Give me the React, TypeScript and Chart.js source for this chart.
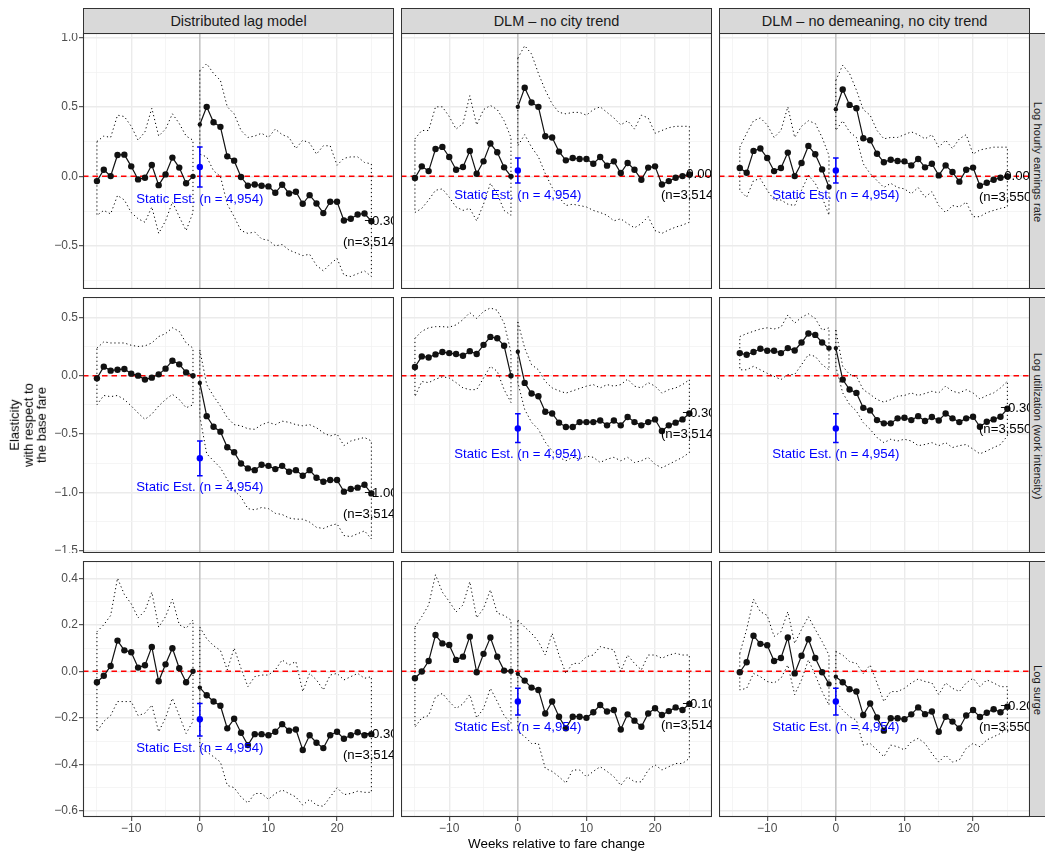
import React, { useEffect, useRef } from "react";
import { Chart, registerables } from "chart.js";

Chart.register(...registerables);

const FONT = "'Liberation Sans', Arial, Helvetica, sans-serif";
Chart.defaults.font.family = FONT;

// ---------------------------------------------------------------------------
// Data
// ---------------------------------------------------------------------------

// Weeks relative to the fare change (event time)
const WEEKS = [
  -15, -14, -13, -12, -11, -10, -9, -8, -7, -6, -5, -4, -3, -2, -1,
  0, 1, 2, 3, 4, 5, 6, 7, 8, 9, 10, 11, 12, 13, 14, 15, 16, 17, 18, 19, 20, 21, 22, 23, 24, 25,
];

const MODEL_TITLES = ["Distributed lag model", "DLM \u2013 no city trend", "DLM \u2013 no demeaning, no city trend"];
const OUTCOME_TITLES = ["Log hourly earnings rate", "Log utilization (work intensity)", "Log surge"];
const N_LABELS = ["(n=3,514)", "(n=3,514)", "(n=3,550)"];
const STATIC_LABEL = "Static Est. (n = 4,954)";

// Axis breaks (all grid lines) and the breaks that carry a label
const X_BREAKS = [-15, -10, -5, 0, 5, 10, 15, 20, 25];
const X_LABELED = [-10, 0, 10, 20];
const Y_BREAKS_EARN = [-0.75, -0.5, -0.25, 0, 0.25, 0.5, 0.75, 1.0];
const Y_LABELED_EARN = [-0.5, 0, 0.5, 1.0];
const Y_BREAKS_UTIL = [-1.5, -1.25, -1.0, -0.75, -0.5, -0.25, 0, 0.25, 0.5];
const Y_LABELED_UTIL = [-1.5, -1.0, -0.5, 0, 0.5];
const Y_BREAKS_SURGE = [-0.6, -0.5, -0.4, -0.3, -0.2, -0.1, 0, 0.1, 0.2, 0.3, 0.4];
const Y_LABELED_SURGE = [-0.6, -0.4, -0.2, 0, 0.2, 0.4];

// Log hourly earnings rate
const earnDlm = [
  -0.034, 0.048, 0.002, 0.154, 0.156, 0.072, -0.022, -0.010, 0.082, -0.063, 0.014, 0.135, 0.063, -0.050, 0.000,
  0.373, 0.500, 0.389, 0.356, 0.144, 0.113, -0.005, -0.067, -0.058, -0.067, -0.072, -0.118, -0.060, -0.123, -0.111,
  -0.197, -0.135, -0.195, -0.264, -0.183, -0.183, -0.317, -0.305, -0.274, -0.267, -0.322,
];
const earnDlmHi = [
  0.25, 0.29, 0.28, 0.44, 0.43, 0.36, 0.26, 0.32, 0.49, 0.29, 0.34, 0.45, 0.38, 0.29, 0.26,
  0.76, 0.81, 0.74, 0.69, 0.50, 0.45, 0.33, 0.28, 0.29, 0.31, 0.28, 0.34, 0.30, 0.28, 0.20,
  0.26, 0.24, 0.16, 0.22, 0.22, 0.08, 0.13, 0.14, 0.14, 0.10, 0.09,
];
const earnDlmLo = [
  -0.28, -0.245, -0.27, -0.137, -0.17, -0.26, -0.305, -0.33, -0.22, -0.41, -0.32, -0.185, -0.29, -0.39, -0.26,
  0.16, 0.14, 0.04, 0.00, -0.20, -0.29, -0.39, -0.41, -0.40, -0.45, -0.46, -0.50, -0.49, -0.53, -0.55,
  -0.57, -0.56, -0.64, -0.68, -0.63, -0.59, -0.71, -0.72, -0.70, -0.68, -0.72,
];
const earnNoTrend = [
  -0.012, 0.072, 0.038, 0.197, 0.212, 0.139, 0.048, 0.067, 0.183, 0.019, 0.108, 0.236, 0.173, 0.065, 0.000,
  0.500, 0.637, 0.531, 0.500, 0.288, 0.279, 0.178, 0.115, 0.132, 0.125, 0.125, 0.091, 0.139, 0.077, 0.108,
  0.024, 0.096, 0.048, -0.024, 0.063, 0.072, -0.058, -0.034, -0.010, 0.002, 0.014,
];
const earnNoTrendHi = [
  0.27, 0.33, 0.33, 0.50, 0.50, 0.43, 0.34, 0.38, 0.58, 0.37, 0.48, 0.51, 0.48, 0.40, 0.28,
  0.85, 0.94, 0.88, 0.74, 0.62, 0.52, 0.46, 0.45, 0.46, 0.46, 0.44, 0.48, 0.50, 0.46, 0.42,
  0.37, 0.40, 0.34, 0.44, 0.42, 0.31, 0.33, 0.35, 0.36, 0.36, 0.36,
];
const earnNoTrendLo = [
  -0.26, -0.23, -0.17, -0.10, -0.09, -0.15, -0.22, -0.245, -0.23, -0.32, -0.20, -0.05, -0.125, -0.245, -0.28,
  0.22, 0.30, 0.21, 0.14, 0.02, -0.08, -0.15, -0.21, -0.20, -0.21, -0.22, -0.245, -0.26, -0.28, -0.32,
  -0.305, -0.34, -0.37, -0.34, -0.29, -0.39, -0.41, -0.385, -0.365, -0.35, -0.33,
];
const earnNoDemean = [
  null, 0.060, 0.026, 0.183, 0.200, 0.132, 0.038, 0.060, 0.171, 0.002, 0.096, 0.219, 0.159, 0.050, -0.077,
  0.483, 0.625, 0.514, 0.490, 0.274, 0.260, 0.163, 0.101, 0.120, 0.110, 0.108, 0.079, 0.125, 0.065, 0.091,
  0.007, 0.079, 0.031, -0.038, 0.048, 0.063, -0.067, -0.046, -0.024, -0.010, 0.000,
];
const earnNoDemeanHi = [
  null, 0.21, 0.31, 0.40, 0.42, 0.37, 0.28, 0.33, 0.50, 0.28, 0.36, 0.40, 0.38, 0.28, 0.15,
  0.69, 0.80, 0.74, 0.62, 0.48, 0.44, 0.33, 0.27, 0.28, 0.28, 0.30, 0.32, 0.30, 0.27, 0.30,
  0.21, 0.26, 0.20, 0.27, 0.30, 0.16, 0.19, 0.20, 0.21, 0.21, 0.21,
];
const earnNoDemeanLo = [
  null, -0.10, -0.15, -0.03, -0.017, -0.10, -0.17, -0.17, -0.20, -0.21, -0.10, 0.007, -0.05, -0.15, -0.28,
  0.33, 0.40, 0.32, 0.28, 0.09, 0.02, -0.03, -0.08, -0.05, -0.08, -0.09, -0.125, -0.08, -0.15, -0.11,
  -0.21, -0.26, -0.21, -0.22, -0.185, -0.29, -0.29, -0.26, -0.245, -0.23, -0.22,
];

// Log utilization (work intensity)
const utilDlm = [
  -0.023, 0.077, 0.043, 0.051, 0.057, 0.017, 0.000, -0.034, -0.017, 0.011, 0.060, 0.128, 0.097, 0.028, 0.000,
  -0.062, -0.347, -0.438, -0.480, -0.614, -0.656, -0.753, -0.795, -0.810, -0.764, -0.773, -0.801, -0.773, -0.824, -0.810,
  -0.858, -0.810, -0.875, -0.909, -0.895, -0.895, -0.994, -0.972, -0.960, -0.935, -1.009,
];
const utilDlmHi = [
  0.236, 0.29, 0.28, 0.28, 0.28, 0.26, 0.25, 0.255, 0.28, 0.335, 0.36, 0.41, 0.38, 0.28, 0.236,
  0.22, -0.077, -0.176, -0.26, -0.36, -0.42, -0.43, -0.455, -0.46, -0.42, -0.40, -0.42, -0.39, -0.40, -0.42,
  -0.43, -0.42, -0.446, -0.49, -0.517, -0.50, -0.60, -0.56, -0.545, -0.53, -0.56,
];
const utilDlmLo = [
  -0.25, -0.17, -0.18, -0.17, -0.205, -0.26, -0.32, -0.375, -0.33, -0.26, -0.205, -0.16, -0.205, -0.275, -0.25,
  -0.35, -0.67, -0.73, -0.79, -0.89, -0.985, -1.04, -1.14, -1.15, -1.13, -1.14, -1.18, -1.19, -1.22, -1.23,
  -1.23, -1.255, -1.30, -1.31, -1.285, -1.27, -1.37, -1.38, -1.355, -1.33, -1.40,
];
const utilNoTrend = [
  0.074, 0.165, 0.156, 0.182, 0.202, 0.193, 0.185, 0.170, 0.210, 0.185, 0.264, 0.332, 0.321, 0.256, 0.000,
  0.205, -0.062, -0.153, -0.176, -0.310, -0.324, -0.403, -0.440, -0.440, -0.398, -0.398, -0.398, -0.384, -0.426, -0.384,
  -0.426, -0.355, -0.398, -0.426, -0.398, -0.375, -0.474, -0.426, -0.403, -0.375, -0.324,
];
const utilNoTrendHi = [
  0.32, 0.38, 0.41, 0.42, 0.42, 0.415, 0.435, 0.48, 0.54, 0.49, 0.55, 0.58, 0.56, 0.45, 0.20,
  0.46, 0.236, 0.094, 0.05, -0.05, -0.105, -0.13, -0.15, -0.13, -0.11, -0.09, -0.077, -0.105, -0.077, -0.09,
  -0.077, -0.03, -0.09, -0.105, -0.06, -0.09, -0.15, -0.12, -0.105, -0.077, -0.034,
];
const utilNoTrendLo = [
  -0.18, -0.05, -0.06, -0.03, -0.01, -0.02, -0.06, -0.105, -0.12, -0.12, -0.02, 0.08, 0.037, -0.12, -0.23,
  -0.06, -0.29, -0.40, -0.46, -0.57, -0.645, -0.70, -0.73, -0.70, -0.716, -0.69, -0.70, -0.744, -0.716, -0.70,
  -0.73, -0.70, -0.744, -0.73, -0.70, -0.76, -0.79, -0.76, -0.73, -0.70, -0.66,
];
const utilNoDemean = [
  null, 0.193, 0.179, 0.202, 0.230, 0.213, 0.213, 0.193, 0.236, 0.216, 0.284, 0.361, 0.349, 0.284, 0.236,
  0.236, -0.034, -0.119, -0.148, -0.276, -0.298, -0.381, -0.409, -0.409, -0.366, -0.361, -0.381, -0.347, -0.389, -0.355,
  -0.384, -0.324, -0.366, -0.398, -0.366, -0.352, -0.438, -0.395, -0.375, -0.352, -0.284,
];
const utilNoDemeanHi = [
  null, 0.335, 0.36, 0.38, 0.40, 0.41, 0.40, 0.415, 0.52, 0.45, 0.50, 0.53, 0.49, 0.39, 0.41,
  0.39, 0.08, 0.01, -0.006, -0.12, -0.16, -0.205, -0.227, -0.205, -0.176, -0.17, -0.148, -0.17, -0.153, -0.134,
  -0.148, -0.09, -0.134, -0.148, -0.12, -0.148, -0.20, -0.17, -0.148, -0.105, -0.048,
];
const utilNoDemeanLo = [
  null, 0.05, 0.05, 0.08, 0.05, 0.02, -0.006, -0.034, 0.01, 0.01, 0.094, 0.18, 0.165, 0.094, 0.05,
  0.08, -0.148, -0.247, -0.304, -0.403, -0.46, -0.53, -0.574, -0.545, -0.56, -0.545, -0.56, -0.60, -0.59, -0.574,
  -0.60, -0.574, -0.616, -0.60, -0.59, -0.63, -0.67, -0.645, -0.616, -0.59, -0.517,
];

// Log surge
const surgeDlm = [
  -0.047, -0.019, 0.023, 0.132, 0.090, 0.082, 0.016, 0.026, 0.105, -0.043, 0.030, 0.099, 0.013, -0.047, 0.000,
  -0.070, -0.103, -0.130, -0.148, -0.245, -0.204, -0.264, -0.317, -0.270, -0.270, -0.275, -0.260, -0.227, -0.255, -0.250,
  -0.338, -0.275, -0.307, -0.330, -0.275, -0.260, -0.290, -0.275, -0.262, -0.275, -0.270,
];
const surgeDlmHi = [
  0.17, 0.20, 0.24, 0.40, 0.33, 0.29, 0.23, 0.26, 0.34, 0.19, 0.235, 0.31, 0.20, 0.185, 0.22,
  0.19, 0.14, 0.11, 0.09, 0.006, 0.10, 0.013, -0.066, -0.023, -0.016, -0.016, 0.006, 0.049, 0.027, 0.042,
  -0.087, -0.009, -0.037, -0.08, -0.016, -0.009, -0.037, -0.023, -0.009, -0.03, -0.023,
];
const surgeDlmLo = [
  -0.26, -0.215, -0.19, -0.13, -0.13, -0.13, -0.19, -0.18, -0.145, -0.26, -0.20, -0.116, -0.19, -0.267, -0.215,
  -0.324, -0.346, -0.367, -0.39, -0.49, -0.50, -0.54, -0.566, -0.525, -0.525, -0.55, -0.525, -0.51, -0.525, -0.54,
  -0.575, -0.55, -0.575, -0.58, -0.54, -0.50, -0.53, -0.525, -0.515, -0.52, -0.52,
];
const surgeNoTrend = [
  -0.030, -0.001, 0.044, 0.156, 0.120, 0.113, 0.049, 0.063, 0.149, -0.004, 0.075, 0.145, 0.063, 0.003, 0.000,
  -0.011, -0.040, -0.070, -0.080, -0.181, -0.130, -0.195, -0.245, -0.195, -0.195, -0.200, -0.176, -0.145, -0.173, -0.166,
  -0.250, -0.185, -0.212, -0.238, -0.181, -0.159, -0.188, -0.171, -0.155, -0.166, -0.140,
];
const surgeNoTrendHi = [
  0.19, 0.235, 0.285, 0.415, 0.34, 0.30, 0.255, 0.285, 0.385, 0.23, 0.27, 0.35, 0.25, 0.24, 0.22,
  0.22, 0.19, 0.163, 0.128, 0.07, 0.163, 0.07, -0.009, 0.034, 0.034, 0.063, 0.07, 0.106, 0.099, 0.092,
  -0.001, 0.07, 0.034, 0.006, 0.07, 0.07, 0.056, 0.07, 0.077, 0.07, 0.07,
];
const surgeNoTrendLo = [
  -0.24, -0.20, -0.19, -0.11, -0.095, -0.13, -0.16, -0.14, -0.10, -0.20, -0.16, -0.073, -0.13, -0.19, -0.224,
  -0.26, -0.28, -0.31, -0.31, -0.417, -0.43, -0.453, -0.48, -0.424, -0.424, -0.453, -0.43, -0.41, -0.43, -0.453,
  -0.49, -0.453, -0.475, -0.475, -0.424, -0.402, -0.424, -0.41, -0.396, -0.396, -0.374,
];
const surgeNoDemean = [
  null, -0.004, 0.039, 0.153, 0.118, 0.112, 0.044, 0.057, 0.145, -0.009, 0.067, 0.138, 0.057, -0.004, -0.054,
  -0.023, -0.047, -0.077, -0.087, -0.188, -0.138, -0.198, -0.255, -0.202, -0.202, -0.206, -0.185, -0.155, -0.184, -0.173,
  -0.260, -0.195, -0.216, -0.245, -0.190, -0.166, -0.196, -0.178, -0.163, -0.176, -0.152,
];
const surgeNoDemeanHi = [
  null, 0.077, 0.18, 0.31, 0.256, 0.24, 0.15, 0.17, 0.256, 0.12, 0.18, 0.235, 0.18, 0.128, 0.07,
  0.085, 0.07, 0.042, 0.034, -0.009, 0.027, -0.05, -0.13, -0.087, -0.087, -0.073, -0.05, -0.033, -0.044, -0.05,
  -0.10, -0.05, -0.073, -0.087, -0.05, -0.03, -0.066, -0.037, -0.05, -0.066, -0.066,
];
const surgeNoDemeanLo = [
  null, -0.08, -0.073, -0.009, -0.023, -0.044, -0.05, -0.03, 0.027, -0.10, -0.037, 0.049, -0.016, -0.087, -0.145,
  -0.13, -0.166, -0.195, -0.21, -0.317, -0.31, -0.338, -0.367, -0.317, -0.324, -0.338, -0.303, -0.288, -0.31, -0.353,
  -0.39, -0.36, -0.39, -0.381, -0.331, -0.31, -0.324, -0.295, -0.281, -0.267, -0.245,
];

// Static (pooled) estimates at week 0, row-major: earnings, utilization, surge x three models
const staticEst = [0.067, 0.043, 0.043, -0.707, -0.452, -0.452, -0.206, -0.13, -0.13];
const staticLo = [-0.077, -0.048, -0.048, -0.858, -0.574, -0.574, -0.278, -0.188, -0.188];
const staticHi = [0.212, 0.132, 0.132, -0.56, -0.327, -0.327, -0.138, -0.073, -0.073];

// ---------------------------------------------------------------------------
// Layout and styling
// ---------------------------------------------------------------------------

const COL_LEFT = [83, 401, 719];
const ROW_TOP = [33, 297, 561];
const PANEL_W = 311;
const PANEL_H = 256;
const Y_AXIS_W = 43;
const X_AXIS_H = 22;
const X_RANGE = [-17.03, 28.3];
const VALUE_LABEL_X = 26.4;

type Series = { est: (number | null)[]; hi: (number | null)[]; lo: (number | null)[] };

const SERIES: Series[][] = [
  [
    { est: earnDlm, hi: earnDlmHi, lo: earnDlmLo },
    { est: earnNoTrend, hi: earnNoTrendHi, lo: earnNoTrendLo },
    { est: earnNoDemean, hi: earnNoDemeanHi, lo: earnNoDemeanLo },
  ],
  [
    { est: utilDlm, hi: utilDlmHi, lo: utilDlmLo },
    { est: utilNoTrend, hi: utilNoTrendHi, lo: utilNoTrendLo },
    { est: utilNoDemean, hi: utilNoDemeanHi, lo: utilNoDemeanLo },
  ],
  [
    { est: surgeDlm, hi: surgeDlmHi, lo: surgeDlmLo },
    { est: surgeNoTrend, hi: surgeNoTrendHi, lo: surgeNoTrendLo },
    { est: surgeNoDemean, hi: surgeNoDemeanHi, lo: surgeNoDemeanLo },
  ],
];

const ROW_AXES = [
  { min: -0.81, max: 1.031, breaks: Y_BREAKS_EARN, labeled: Y_LABELED_EARN },
  { min: -1.52, max: 0.674, breaks: Y_BREAKS_UTIL, labeled: Y_LABELED_UTIL },
  { min: -0.626, max: 0.474, breaks: Y_BREAKS_SURGE, labeled: Y_LABELED_SURGE },
];

const minus = (s: string) => s.replace("-", "\u2212");
const fmtValue = (v: number) => minus((Math.round(v * 10) / 10).toFixed(2));

// Pre- and post-period pieces, separated by a gap so they are not joined
function estimatePoints(vals: (number | null)[]) {
  const pre: { x: number; y: number | null }[] = [];
  const post: { x: number; y: number | null }[] = [];
  WEEKS.forEach((w, i) => {
    const v = vals[i];
    if (v === null || v === undefined) return;
    (w < 0 ? pre : post).push({ x: w, y: v });
  });
  return [...pre, { x: -0.5, y: null }, ...post];
}

// Outline of the confidence band as a closed polygon per period
function bandOutline(hi: (number | null)[], lo: (number | null)[]) {
  const part = (inPeriod: (w: number) => boolean) => {
    const idx = WEEKS.map((_, i) => i).filter((i) => inPeriod(WEEKS[i]) && hi[i] !== null);
    const upper = idx.map((i) => ({ x: WEEKS[i], y: hi[i] as number }));
    const lower = idx
      .slice()
      .reverse()
      .map((i) => ({ x: WEEKS[i], y: lo[i] as number }));
    return [...upper, ...lower, upper[0]];
  };
  return [...part((w) => w < 0), { x: -0.5, y: null }, ...part((w) => w >= 0)];
}

function FacetPanel({ row, col }: { row: number; col: number }) {
  const canvasRef = useRef<HTMLCanvasElement | null>(null);
  const hasY = col === 0;
  const hasX = row === 2;
  const left = COL_LEFT[col] - (hasY ? Y_AXIS_W : 0);
  const top = ROW_TOP[row];
  const width = PANEL_W + (hasY ? Y_AXIS_W : 0);
  const height = PANEL_H + (hasX ? X_AXIS_H : 0);

  useEffect(() => {
    const s = SERIES[row][col];
    const axis = ROW_AXES[row];
    const k = row * 3 + col;
    const lastEst = s.est[s.est.length - 1] as number;
    const lastWeek = WEEKS[WEEKS.length - 1];

    const decor = {
      id: "facetDecor",
      beforeDatasetsDraw(chart: any) {
        const { ctx, chartArea: a, scales } = chart;
        ctx.save();
        ctx.beginPath();
        ctx.rect(a.left, a.top, a.width, a.height);
        ctx.clip();
        const x0 = scales.x.getPixelForValue(0);
        ctx.strokeStyle = "#BDBDBD";
        ctx.lineWidth = 1.3;
        ctx.beginPath();
        ctx.moveTo(x0, a.top);
        ctx.lineTo(x0, a.bottom);
        ctx.stroke();
        const y0 = scales.y.getPixelForValue(0);
        ctx.strokeStyle = "#FF0000";
        ctx.lineWidth = 1.5;
        ctx.setLineDash([5.5, 4]);
        ctx.beginPath();
        ctx.moveTo(a.left, y0);
        ctx.lineTo(a.right, y0);
        ctx.stroke();
        ctx.restore();
      },
      afterDatasetsDraw(chart: any) {
        const { ctx, chartArea: a, scales } = chart;
        const xs = scales.x;
        const ys = scales.y;
        ctx.save();
        ctx.beginPath();
        ctx.rect(a.left, a.top, a.width, a.height);
        ctx.clip();

        // static estimate error bar
        const xp = xs.getPixelForValue(0);
        const yHi = ys.getPixelForValue(staticHi[k]);
        const yLo = ys.getPixelForValue(staticLo[k]);
        ctx.strokeStyle = "#0000FF";
        ctx.lineWidth = 1.5;
        ctx.beginPath();
        ctx.moveTo(xp, yHi);
        ctx.lineTo(xp, yLo);
        ctx.moveTo(xp - 2.8, yHi);
        ctx.lineTo(xp + 2.8, yHi);
        ctx.moveTo(xp - 2.8, yLo);
        ctx.lineTo(xp + 2.8, yLo);
        ctx.stroke();

        ctx.font = `13.2px ${FONT}`;
        ctx.textAlign = "center";
        ctx.textBaseline = "middle";
        ctx.fillStyle = "#0000FF";
        ctx.fillText(STATIC_LABEL, xp, yLo + 12);

        // final-week value and sample size
        const yl = ys.getPixelForValue(lastEst);
        ctx.fillStyle = "#000000";
        ctx.fillText(fmtValue(lastEst), xs.getPixelForValue(VALUE_LABEL_X), yl);
        ctx.fillText(N_LABELS[col], xs.getPixelForValue(lastWeek), yl + 21);
        ctx.restore();

        // panel border
        ctx.save();
        ctx.strokeStyle = "#333333";
        ctx.lineWidth = 1.1;
        ctx.strokeRect(a.left + 0.5, a.top + 0.5, a.width - 1, a.height - 1);
        ctx.restore();
      },
    };

    const isMajorX = (v: number) => X_LABELED.includes(v);
    const isMajorY = (v: number) => axis.labeled.includes(v);

    const chart = new Chart(canvasRef.current as HTMLCanvasElement, {
      type: "line",
      data: {
        datasets: [
          {
            data: [{ x: 0, y: staticEst[k] }],
            showLine: false,
            pointRadius: 3.2,
            pointBackgroundColor: "#0000FF",
            pointBorderWidth: 0,
          },
          {
            data: estimatePoints(s.est),
            borderColor: "#111111",
            borderWidth: 1.2,
            spanGaps: false,
            tension: 0,
            pointRadius: (c: any) => (c.raw && c.raw.x === 0 ? 2.2 : c.raw && c.raw.x === -1 ? 2.7 : 3.2),
            pointBackgroundColor: "#111111",
            pointBorderWidth: 0,
          },
          {
            data: bandOutline(s.hi, s.lo),
            borderColor: "#000000",
            borderWidth: 1,
            borderDash: [1.2, 2.8],
            spanGaps: false,
            tension: 0,
            pointRadius: 0,
            fill: false,
          },
        ] as any,
      },
      options: {
        responsive: false,
        animation: false,
        devicePixelRatio: 1,
        events: [],
        layout: { padding: 0, autoPadding: false } as any,
        plugins: { legend: { display: false }, tooltip: { enabled: false } },
        scales: {
          x: {
            type: "linear",
            min: X_RANGE[0],
            max: X_RANGE[1],
            afterBuildTicks: (sc: any) => {
              sc.ticks = X_BREAKS.map((v) => ({ value: v }));
            },
            afterFit: (sc: any) => {
              sc.height = hasX ? X_AXIS_H : 0;
              sc.paddingLeft = 0;
              sc.paddingRight = 0;
            },
            border: { display: false },
            grid: {
              color: (c: any) => (isMajorX(c.tick?.value) ? "#EBEBEB" : "#F3F3F3"),
              lineWidth: (c: any) => (isMajorX(c.tick?.value) ? 1.4 : 0.8),
              drawTicks: hasX,
              tickLength: 4,
              tickWidth: 1,
              tickColor: (c: any) => (isMajorX(c.tick?.value) ? "#333333" : "rgba(0,0,0,0)"),
            },
            ticks: {
              display: hasX,
              autoSkip: false,
              maxRotation: 0,
              minRotation: 0,
              padding: 0,
              color: "#4D4D4D",
              font: { size: 12, family: FONT },
              callback: (v: any) => (isMajorX(v) ? minus(String(v)) : ""),
            },
          },
          y: {
            type: "linear",
            min: axis.min,
            max: axis.max,
            afterBuildTicks: (sc: any) => {
              sc.ticks = axis.breaks.map((v) => ({ value: v }));
            },
            afterFit: (sc: any) => {
              sc.width = hasY ? Y_AXIS_W : 0;
              sc.paddingTop = 0;
              sc.paddingBottom = 0;
            },
            border: { display: false },
            grid: {
              color: (c: any) => (isMajorY(c.tick?.value) ? "#EBEBEB" : "#F3F3F3"),
              lineWidth: (c: any) => (isMajorY(c.tick?.value) ? 1.4 : 0.8),
              drawTicks: hasY,
              tickLength: 4,
              tickWidth: 1,
              tickColor: (c: any) => (isMajorY(c.tick?.value) ? "#333333" : "rgba(0,0,0,0)"),
            },
            ticks: {
              display: hasY,
              autoSkip: false,
              padding: 1,
              color: "#4D4D4D",
              font: { size: 12, family: FONT },
              callback: (v: any) => (isMajorY(v) ? minus(Number(v).toFixed(1)) : ""),
            },
          },
        },
      } as any,
      plugins: [decor],
    });
    return () => chart.destroy();
  }, [row, col]);

  return (
    <canvas
      ref={canvasRef}
      width={width}
      height={height}
      style={{ position: "absolute", left, top, width, height }}
    />
  );
}

export default function App() {
  const panels = [];
  for (let r = 0; r < 3; r++) for (let c = 0; c < 3; c++) panels.push(<FacetPanel key={`${r}-${c}`} row={r} col={c} />);

  return (
    <div
      style={{
        position: "fixed",
        left: 0,
        top: 0,
        width: 1045,
        height: 855,
        overflow: "hidden",
        background: "#FFFFFF",
        fontFamily: FONT,
      }}
    >
      {MODEL_TITLES.map((t, c) => (
        <div
          key={t}
          style={{
            position: "absolute",
            left: COL_LEFT[c],
            top: 8,
            width: PANEL_W,
            height: 26,
            boxSizing: "border-box",
            border: "1px solid #333333",
            background: "#D9D9D9",
            color: "#1A1A1A",
            fontSize: 14.5,
            display: "flex",
            alignItems: "center",
            justifyContent: "center",
            whiteSpace: "nowrap",
          }}
        >
          {t}
        </div>
      ))}
      {OUTCOME_TITLES.map((t, r) => (
        <div
          key={t}
          style={{
            position: "absolute",
            left: COL_LEFT[2] + PANEL_W - 1,
            top: ROW_TOP[r],
            width: 26,
            height: PANEL_H,
            boxSizing: "border-box",
            border: "1px solid #333333",
            background: "#D9D9D9",
            overflow: "hidden",
          }}
        >
          <div
            style={{
              position: "absolute",
              left: 8,
              top: PANEL_H / 2,
              transform: "translate(-50%, -50%) rotate(90deg)",
              whiteSpace: "nowrap",
              fontSize: 11.2,
              color: "#1A1A1A",
            }}
          >
            {t}
          </div>
        </div>
      ))}
      {panels}
      <div
        style={{
          position: "absolute",
          left: 28,
          top: 425,
          transform: "translate(-50%, -50%) rotate(-90deg)",
          whiteSpace: "pre",
          textAlign: "center",
          fontSize: 13,
          lineHeight: "13.5px",
          color: "#000000",
        }}
      >
        {"Elasticity\nwith respect to\nthe base fare"}
      </div>
      <div
        style={{
          position: "absolute",
          left: (COL_LEFT[0] + COL_LEFT[2] + PANEL_W) / 2,
          top: 843,
          transform: "translate(-50%, -50%)",
          whiteSpace: "nowrap",
          fontSize: 13.4,
          color: "#000000",
        }}
      >
        Weeks relative to fare change
      </div>
    </div>
  );
}
